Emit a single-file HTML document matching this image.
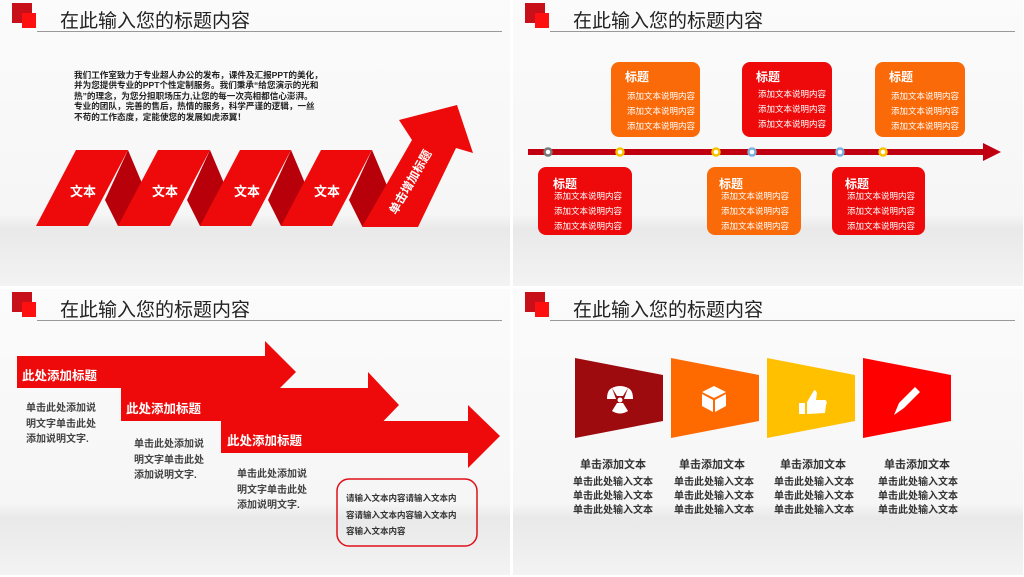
<!DOCTYPE html>
<html><head><meta charset="utf-8"><style>
body{margin:0;width:1024px;height:577px;overflow:hidden;background:#fff;font-family:"Liberation Sans","Noto Sans CJK SC",sans-serif;position:relative}
.s{position:absolute;width:510px;height:286px;background:linear-gradient(#fbfbfb 0%,#f6f6f6 75%,#e9e9e9 80%,#f3f3f3 100%);overflow:hidden}
.t{position:absolute;left:60px;top:6px;font-size:19px;color:#222}
.ln{position:absolute;left:37px;top:31px;width:465px;height:1px;background:#999}
.q1{position:absolute;left:12px;top:3px;width:20px;height:20px;background:#c8101a}
.q2{position:absolute;left:22px;top:13px;width:14px;height:15px;background:#ff1010}
.a{position:absolute}
svg{position:absolute;left:0;top:0}
.w{color:#fff;font-weight:bold}
</style></head><body>
<!-- slide 1 -->
<div class="s" style="left:0;top:0">
<div class="q1"></div><div class="q2"></div><div class="t">在此输入您的标题内容</div><div class="ln"></div>
<svg width="510" height="286">
<g fill="#b8000a">
<polygon points="105,200 128,150 160,226 118,226"/>
<polygon points="187,200 210,150 242,226 200,226"/>
<polygon points="268,200 291,150 323,226 281,226"/>
<polygon points="349,200 372,150 404,226 362,226"/>
</g>
<g fill="#ee0a0a">
<polygon points="36,226 76,150 128,150 88,226"/>
<polygon points="118,226 158,150 210,150 170,226"/>
<polygon points="200,226 240,150 291,150 251,226"/>
<polygon points="281,226 321,150 372,150 332,226"/>
<polygon points="362,227 412,140 399,120 457,105 473,153 456,148 418,227"/>
</g>
</svg>
<div class="a w" style="left:70px;top:181px;font-size:13px">文本</div>
<div class="a w" style="left:152px;top:181px;font-size:13px">文本</div>
<div class="a w" style="left:234px;top:181px;font-size:13px">文本</div>
<div class="a w" style="left:314px;top:181px;font-size:13px">文本</div>
<div class="a w" style="left:372px;top:170px;font-size:12px;transform:rotate(-60deg);transform-origin:center;width:80px">单击增加标题</div>
<div class="a" style="left:74px;top:70px;font-size:8.6px;line-height:10.4px;font-weight:bold;color:#222;white-space:nowrap">我们工作室致力于专业超人办公的发布，课件及汇报PPT的美化，<br>并为您提供专业的PPT个性定制服务。我们秉承“给您演示的光和<br>热”的理念，为您分担职场压力,让您的每一次亮相都信心澎湃。<br>专业的团队，完善的售后，热情的服务，科学严谨的逻辑，一丝<br>不苟的工作态度，定能使您的发展如虎添翼！</div>
</div>
<!-- slide 2 -->
<div class="s" style="left:513px;top:0">
<div class="q1"></div><div class="q2"></div><div class="t">在此输入您的标题内容</div><div class="ln"></div>
<svg width="510" height="286">
<rect x="15" y="149" width="460" height="6" fill="#c00010"/>
<polygon points="470,143 488,152 470,161" fill="#c00010"/>
<g stroke-width="2.5" fill="#fff">
<circle cx="35" cy="152" r="3.5" stroke="#777"/>
<circle cx="107" cy="152" r="3.5" stroke="#f5c400"/>
<circle cx="203" cy="152" r="3.5" stroke="#f5c400"/>
<circle cx="239" cy="152" r="3.5" stroke="#7ab0e0"/>
<circle cx="327" cy="152" r="3.5" stroke="#7ab0e0"/>
<circle cx="370" cy="152" r="3.5" stroke="#f5c400"/>
</g>
<rect x="98" y="62" width="89" height="75" rx="8" fill="#fb6a08"/>
<rect x="229" y="62" width="90" height="75" rx="8" fill="#ee0a0a"/>
<rect x="362" y="62" width="90" height="75" rx="8" fill="#fb6a08"/>
<rect x="25" y="167" width="94" height="68" rx="8" fill="#ee0a0a"/>
<rect x="194" y="167" width="94" height="68" rx="8" fill="#fb6a08"/>
<rect x="319" y="167" width="93" height="68" rx="8" fill="#ee0a0a"/>
</svg>
<div class="a w" style="left:112px;top:68px;font-size:12px">标题</div>
<div class="a w" style="left:243px;top:68px;font-size:12px">标题</div>
<div class="a w" style="left:376px;top:68px;font-size:12px">标题</div>
<div class="a w" style="left:40px;top:175px;font-size:12px">标题</div>
<div class="a w" style="left:206px;top:175px;font-size:12px">标题</div>
<div class="a w" style="left:332px;top:175px;font-size:12px">标题</div>
<div class="a" style="left:114px;top:89px;font-size:8.5px;line-height:15px;color:#fff">添加文本说明内容<br>添加文本说明内容<br>添加文本说明内容</div>
<div class="a" style="left:245px;top:87px;font-size:8.5px;line-height:15px;color:#fff">添加文本说明内容<br>添加文本说明内容<br>添加文本说明内容</div>
<div class="a" style="left:378px;top:89px;font-size:8.5px;line-height:15px;color:#fff">添加文本说明内容<br>添加文本说明内容<br>添加文本说明内容</div>
<div class="a" style="left:41px;top:189px;font-size:8.5px;line-height:15px;color:#fff">添加文本说明内容<br>添加文本说明内容<br>添加文本说明内容</div>
<div class="a" style="left:208px;top:189px;font-size:8.5px;line-height:15px;color:#fff">添加文本说明内容<br>添加文本说明内容<br>添加文本说明内容</div>
<div class="a" style="left:334px;top:189px;font-size:8.5px;line-height:15px;color:#fff">添加文本说明内容<br>添加文本说明内容<br>添加文本说明内容</div>
</div>
<!-- slide 3 -->
<div class="s" style="left:0;top:289px">
<div class="q1"></div><div class="q2"></div><div class="t">在此输入您的标题内容</div><div class="ln"></div>
<svg width="510" height="286">
<polygon fill="#ee0a0a" points="17,67 265,67 265,52 296,83 265,114 265,99 17,99"/>
<polygon fill="#ee0a0a" points="121,99 368,99 368,83 399,116 368,148 368,132 121,132"/>
<polygon fill="#ee0a0a" points="221,132 468,132 468,116 500,147 468,179 468,164 221,164"/>
<rect x="337" y="190" width="140" height="67" rx="12" fill="none" stroke="#e0101a" stroke-width="1.5"/>
</svg>
<div class="a w" style="left:22px;top:76px;font-size:12.5px">此处添加标题</div>
<div class="a w" style="left:126px;top:109px;font-size:12.5px">此处添加标题</div>
<div class="a w" style="left:227px;top:141px;font-size:12.5px">此处添加标题</div>
<div class="a" style="left:26px;top:112px;font-size:10px;line-height:15.5px;font-weight:bold;color:#444">单击此处添加说<br>明文字单击此处<br>添加说明文字.</div>
<div class="a" style="left:134px;top:148px;font-size:10px;line-height:15.5px;font-weight:bold;color:#444">单击此处添加说<br>明文字单击此处<br>添加说明文字.</div>
<div class="a" style="left:237px;top:178px;font-size:10px;line-height:15.5px;font-weight:bold;color:#444">单击此处添加说<br>明文字单击此处<br>添加说明文字.</div>
<div class="a" style="left:346px;top:201px;font-size:8.5px;line-height:16.5px;color:#333;font-weight:bold">请输入文本内容请输入文本内<br>容请输入文本内容输入文本内<br>容输入文本内容</div>
</div>
<!-- slide 4 -->
<div class="s" style="left:513px;top:289px">
<div class="q1"></div><div class="q2"></div><div class="t">在此输入您的标题内容</div><div class="ln"></div>
<svg width="510" height="286">
<polygon fill="#9e0b0f" points="62,69 150,86 150,132 62,149"/>
<polygon fill="#ff6a00" points="158,69 246,86 246,132 158,149"/>
<polygon fill="#ffc000" points="254,69 342,86 342,132 254,149"/>
<polygon fill="#ff0000" points="350,69 438,86 438,132 350,149"/>
<g fill="#fff">
<circle cx="107" cy="111" r="2.5"/>
<path d="M104 107 L99 99 Q107 95 115 99 L110 107 Z"/>
<path d="M104 114 L99 122 Q107 127 115 122 L110 114 Z" transform="rotate(0)"/>
<path d="M103 110 L94 110 Q94 101 99 99 Z"/>
<path d="M111 110 L120 110 Q120 101 115 99 Z"/>
<polygon points="189,103 201,97 213,103 201,109"/><polygon points="189,105 200,111 200,123 189,117"/><polygon points="202,111 213,105 213,117 202,123"/>
<rect x="286" y="114" width="6" height="11"/><path d="M294 113 L300 103 Q302 99 304 104 L303 111 L312 111 Q315 112 313 116 L312 124 L294 125 Z"/>
<polygon points="381,126 386,114 402,98 407,103 391,119"/>
</g>
</svg>
<div class="a" style="left:40px;top:167px;width:120px;text-align:center;font-size:11px;font-weight:bold;color:#333">单击添加文本</div>
<div class="a" style="left:139px;top:167px;width:120px;text-align:center;font-size:11px;font-weight:bold;color:#333">单击添加文本</div>
<div class="a" style="left:240px;top:167px;width:120px;text-align:center;font-size:11px;font-weight:bold;color:#333">单击添加文本</div>
<div class="a" style="left:344px;top:167px;width:120px;text-align:center;font-size:11px;font-weight:bold;color:#333">单击添加文本</div>
<div class="a" style="left:40px;top:187px;width:120px;text-align:center;font-size:10px;line-height:14px;font-weight:bold;color:#333">单击此处输入文本<br>单击此处输入文本<br>单击此处输入文本</div>
<div class="a" style="left:141px;top:187px;width:120px;text-align:center;font-size:10px;line-height:14px;font-weight:bold;color:#333">单击此处输入文本<br>单击此处输入文本<br>单击此处输入文本</div>
<div class="a" style="left:241px;top:187px;width:120px;text-align:center;font-size:10px;line-height:14px;font-weight:bold;color:#333">单击此处输入文本<br>单击此处输入文本<br>单击此处输入文本</div>
<div class="a" style="left:345px;top:187px;width:120px;text-align:center;font-size:10px;line-height:14px;font-weight:bold;color:#333">单击此处输入文本<br>单击此处输入文本<br>单击此处输入文本</div>
</div>
</body></html>
